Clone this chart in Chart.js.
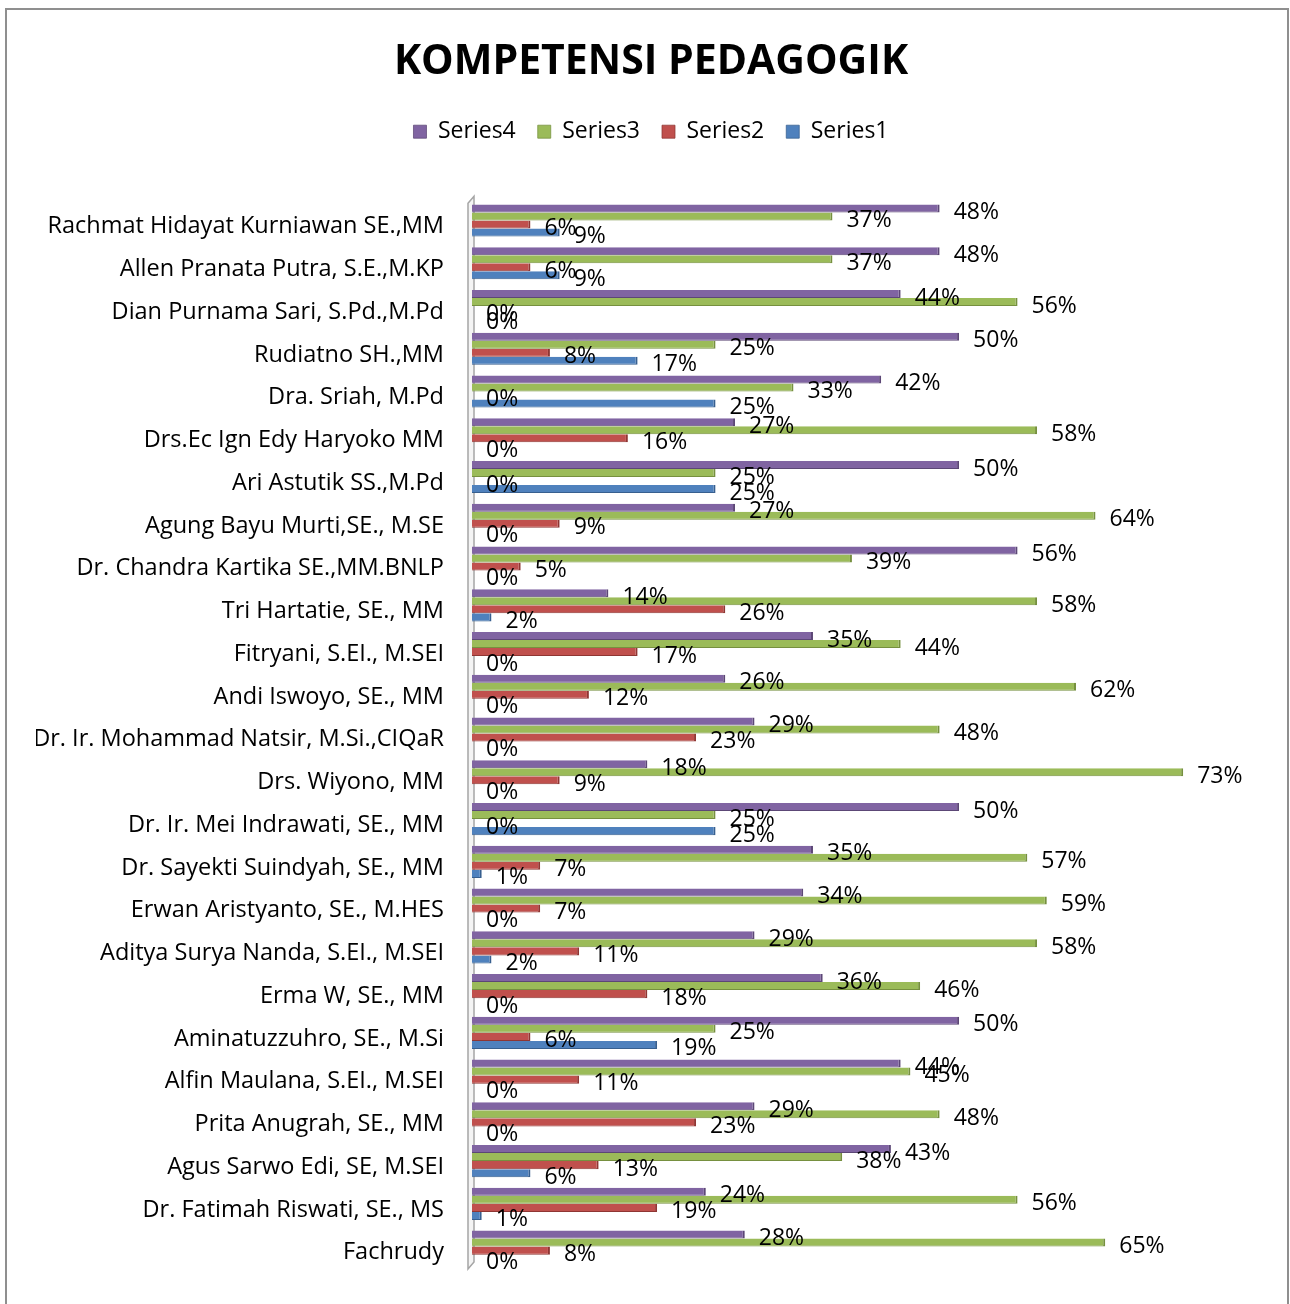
<!DOCTYPE html>
<html lang="id">
<head>
    <meta charset="UTF-8">
    <title>Kompetensi Pedagogik</title>
    <style>
        body {
            margin: 0;
            background: #fff;
        }

        .frame {
            position: absolute;
            left: 5px;
            top: 8px;
            width: 1284px;
            height: 1320px;
            border: 2px solid #8f8f8f;
            box-sizing: border-box;
        }

        #chart {
            position: absolute;
            left: 0;
            top: 0;
        }
    </style>
</head>
<body>
    <div class="frame"></div>
    <canvas id="chart" width="1290" height="1304"></canvas>

    <script src="https://cdn.jsdelivr.net/npm/chart.js"></script>
    <script>
        const dosen = [
            'Rachmat Hidayat Kurniawan SE.,MM',
            'Allen Pranata Putra, S.E.,M.KP',
            'Dian Purnama Sari, S.Pd.,M.Pd',
            'Rudiatno SH.,MM',
            'Dra. Sriah, M.Pd',
            'Drs.Ec Ign Edy Haryoko MM',
            'Ari Astutik SS.,M.Pd',
            'Agung Bayu Murti,SE., M.SE',
            'Dr. Chandra Kartika SE.,MM.BNLP',
            'Tri Hartatie, SE., MM',
            'Fitryani, S.EI., M.SEI',
            'Andi Iswoyo, SE., MM',
            'Dr. Ir. Mohammad Natsir, M.Si.,CIQaR',
            'Drs. Wiyono, MM',
            'Dr. Ir. Mei Indrawati, SE., MM',
            'Dr. Sayekti Suindyah, SE., MM',
            'Erwan Aristyanto, SE., M.HES',
            'Aditya Surya Nanda, S.EI., M.SEI',
            'Erma W, SE., MM',
            'Aminatuzzuhro, SE., M.Si',
            'Alfin Maulana, S.EI., M.SEI',
            'Prita Anugrah, SE., MM',
            'Agus Sarwo Edi, SE, M.SEI',
            'Dr. Fatimah Riswati, SE., MS',
            'Fachrudy'
        ];

        // percentages per lecturer, same order as the names above
        const series4 = [48, 48, 44, 50, 42, 27, 50, 27, 56, 14, 35, 26, 29, 18, 50, 35, 34, 29, 36, 50, 44, 29, 43, 24, 28];
        const series3 = [37, 37, 56, 25, 33, 58, 25, 64, 39, 58, 44, 62, 48, 73, 25, 57, 59, 58, 46, 25, 45, 48, 38, 56, 65];
        const series2 = [6, 6, 0, 8, 0, 16, 0, 9, 5, 26, 17, 12, 23, 9, 0, 7, 7, 11, 18, 6, 11, 23, 13, 19, 8];
        const series1 = [9, 9, 0, 17, 25, 0, 25, 0, 0, 2, 0, 0, 0, 0, 25, 1, 0, 2, 0, 19, 0, 0, 6, 1, 0];

        const FONT = "'Open Sans', 'DejaVu Sans', sans-serif";

        // writes "NN%" just past the end of every bar
        const valueLabels = {
            id: 'valueLabels',
            afterDatasetsDraw(chart) {
                const ctx = chart.ctx;
                ctx.save();
                ctx.font = '23px ' + FONT;
                ctx.fillStyle = '#000';
                ctx.textAlign = 'left';
                ctx.textBaseline = 'middle';
                chart.data.datasets.forEach((ds, i) => {
                    chart.getDatasetMeta(i).data.forEach((bar, j) => {
                        ctx.fillText(ds.data[j] + '%', bar.x + 14, bar.y + 4);
                    });
                });
                ctx.restore();
            }
        };

        // thin grey "wall" along the category axis
        const axisWall = {
            id: 'axisWall',
            beforeDatasetsDraw(chart) {
                const { left, top, bottom } = chart.chartArea;
                const ctx = chart.ctx;
                ctx.save();
                ctx.strokeStyle = '#a5a5a5';
                ctx.fillStyle = '#f4f4f4';
                ctx.lineWidth = 1.5;
                ctx.beginPath();
                ctx.moveTo(left - 4, top + 4);
                ctx.lineTo(left + 2, top - 3);
                ctx.lineTo(left + 2, bottom - 6);
                ctx.lineTo(left - 4, bottom + 1);
                ctx.closePath();
                ctx.fill();
                ctx.stroke();
                ctx.restore();
            }
        };

        function barSet(label, data, fill, edge) {
            return {
                label: label,
                data: data,
                backgroundColor: fill,
                borderColor: edge,
                borderWidth: { top: 0, right: 2, bottom: 1, left: 0 },
                borderSkipped: false
            };
        }

        new Chart(document.getElementById('chart'), {
            type: 'bar',
            data: {
                labels: dosen,
                datasets: [
                    barSet('Series4', series4, '#8064A2', '#5c4776'),
                    barSet('Series3', series3, '#9BBB59', '#76903f'),
                    barSet('Series2', series2, '#C0504D', '#8f3633'),
                    barSet('Series1', series1, '#4F81BD', '#375f8f')
                ]
            },
            options: {
                indexAxis: 'y',
                responsive: false,
                animation: false,
                layout: {
                    padding: { top: 16, left: 36, right: 24, bottom: 36 }
                },
                datasets: {
                    bar: { categoryPercentage: 0.75, barPercentage: 1.0 }
                },
                scales: {
                    x: {
                        position: 'top',
                        min: 0,
                        max: 81.5,
                        grid: { display: false },
                        border: { display: false },
                        ticks: { display: false },
                        afterFit(scale) { scale.height = 46; }
                    },
                    y: {
                        grid: { display: false, drawTicks: false },
                        border: { display: false },
                        ticks: {
                            autoSkip: false,
                            padding: 28,
                            labelOffset: 6,
                            color: '#000',
                            font: { family: FONT, size: 23.5 }
                        },
                        afterFit(scale) {
                            scale.width = 436;
                            // tick padding would otherwise reserve space below the last row
                            scale.paddingTop = 0;
                            scale.paddingBottom = 0;
                        }
                    }
                },
                plugins: {
                    title: {
                        display: true,
                        text: 'KOMPETENSI PEDAGOGIK',
                        color: '#000',
                        font: { family: FONT, size: 41, weight: 'bold' },
                        padding: { top: 22, bottom: 11 }
                    },
                    legend: {
                        position: 'top',
                        labels: {
                            boxWidth: 13,
                            boxHeight: 13,
                            padding: 22,
                            color: '#000',
                            font: { family: FONT, size: 23 }
                        }
                    },
                    tooltip: { enabled: false }
                }
            },
            plugins: [axisWall, valueLabels]
        });
    </script>
</body>
</html>
